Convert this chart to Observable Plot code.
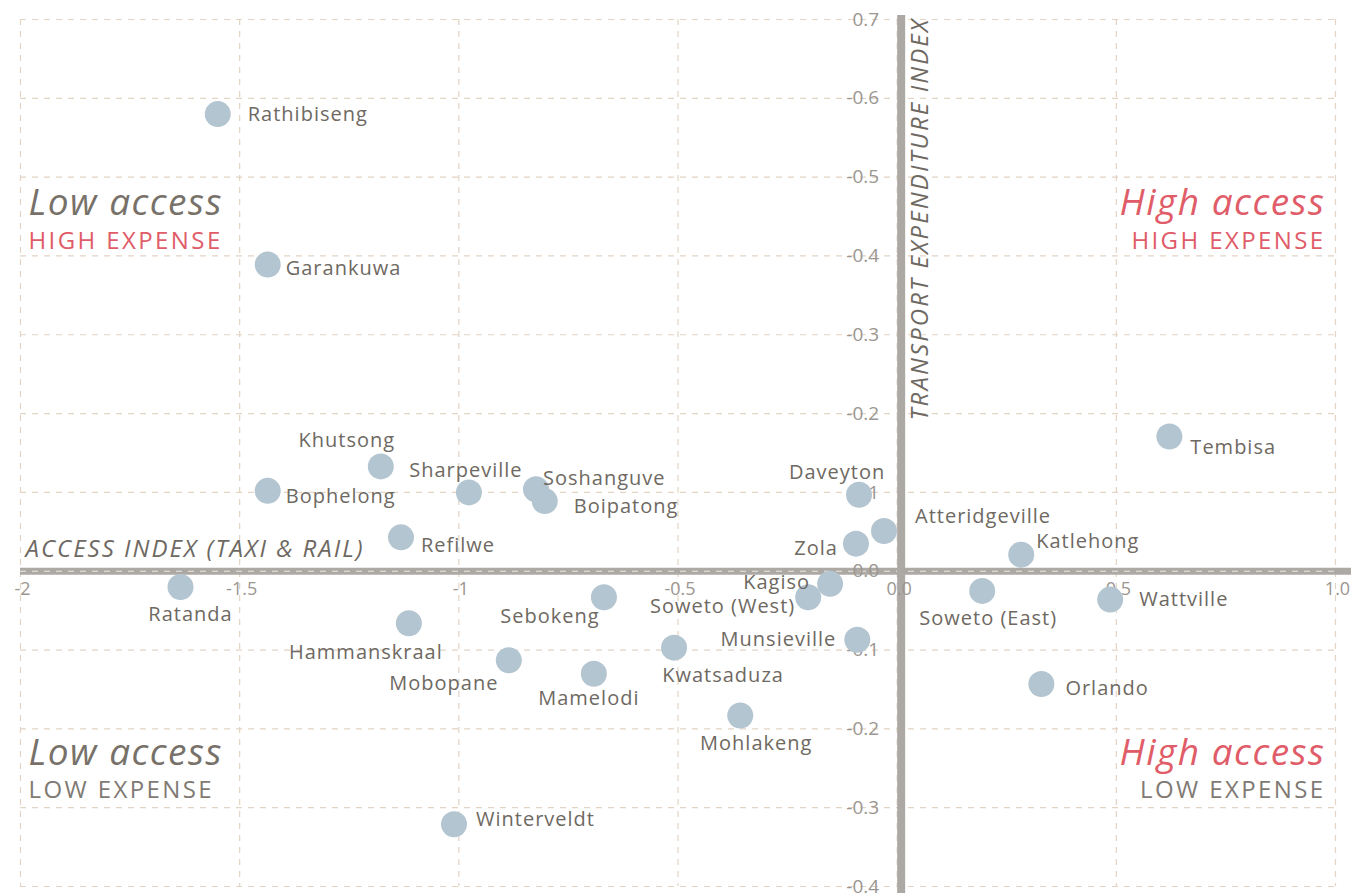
<!DOCTYPE html>
<html>
<head>
<meta charset="utf-8">
<script src="https://cdn.jsdelivr.net/npm/d3@7"></script>
<script src="https://cdn.jsdelivr.net/npm/@observablehq/plot@0.6"></script>
<style>
  html, body { margin: 0; padding: 0; background: #fff; }
  #chart svg { display: block; }
</style>
</head>
<body>
<div id="chart"></div>
<script>
// ---- Data ----
const townships = ["Rathibiseng","Garankuwa","Khutsong","Sharpeville","Bophelong","Soshanguve","Boipatong","Refilwe","Ratanda","Hammanskraal","Mobopane","Sebokeng","Mamelodi","Kwatsaduza","Mohlakeng","Soweto (West)","Kagiso","Munsieville","Zola","Daveyton","Atteridgeville","Katlehong","Soweto (East)","Wattville","Orlando","Tembisa","Winterveldt"];
const accessIndex = [-1.55,-1.436,-1.178,-0.977,-1.436,-0.824,-0.804,-1.132,-1.635,-1.114,-0.886,-0.669,-0.692,-0.509,-0.358,-0.203,-0.153,-0.091,-0.094,-0.087,-0.030,0.283,0.194,0.486,0.329,0.621,-1.011];
const expenditureIndex = [0.580,0.389,0.133,0.100,0.102,0.104,0.089,0.043,-0.020,-0.066,-0.113,-0.033,-0.130,-0.097,-0.183,-0.033,-0.016,-0.087,0.035,0.097,0.051,0.021,-0.025,-0.036,-0.143,0.171,-0.321];

const xTicks = [-2,-1.5,-1,-0.5,0,0.5,1.0];
const xTickLabels = ["-2","-1.5","-1","-0.5","0.0","0.5","1.0"];
const yTicks = [0.7,0.6,0.5,0.4,0.3,0.2,0.1,0,-0.1,-0.2,-0.3,-0.4];
const yTickLabels = ["0.7","-0.6","-0.5","-0.4","-0.3","-0.2","-0.1","0.0","-0.1","-0.2","-0.3","-0.4"];

const xTitle = "ACCESS INDEX (TAXI & RAIL)";
const yTitle = "TRANSPORT EXPENDITURE INDEX";
const quadrantHeads = ["Low access", "High access"];
const quadrantSubs = ["HIGH EXPENSE", "LOW EXPENSE"];

// ---- Label placement (layout only): [anchor, dx, dy] ----
const labelPlacement = {
  "Rathibiseng": ["start", 30, 1], "Garankuwa": ["start", 18, 4], "Khutsong": ["middle", -34, -26],
  "Sharpeville": ["middle", -3, -22], "Bophelong": ["start", 18, 6], "Soshanguve": ["start", 7, -11],
  "Boipatong": ["start", 29, 6], "Refilwe": ["start", 20, 8], "Ratanda": ["middle", 10, 28],
  "Hammanskraal": ["middle", -43, 29], "Mobopane": ["middle", -65, 23], "Sebokeng": ["middle", -54, 19],
  "Mamelodi": ["middle", -5, 25], "Kwatsaduza": ["middle", 49, 28], "Mohlakeng": ["middle", 16, 28],
  "Soweto (West)": ["end", -13, 9], "Kagiso": ["end", -20, -1], "Munsieville": ["end", -21, 0],
  "Zola": ["end", -18, 5], "Daveyton": ["middle", -22, -22], "Atteridgeville": ["start", 31, -14],
  "Katlehong": ["start", 15, -13], "Soweto (East)": ["middle", 6, 28], "Wattville": ["start", 29, 0],
  "Orlando": ["start", 24, 5], "Tembisa": ["start", 21, 11], "Winterveldt": ["start", 22, -5]
};

const data = townships.map((name, i) => ({name, x: accessIndex[i], y: expenditureIndex[i]}));
const xt = xTicks.map((v, i) => ({v, label: xTickLabels[i]}));
const yt = yTicks.map((v, i) => ({v, label: yTickLabels[i]}));

const FONT = "'Open Sans', Lato, sans-serif";
const TXT = "#6e6962";
const TICK = "#9b9690";
const RED = "#e05c68";
const GRID = "#e3d4c4";
const AXIS = "#aca8a4";
const GREYHEAD = "#777169";
const GREYSUB = "#7f7a73";

const labelMarks = data.map(d => {
  const [anchor, dx, dy] = labelPlacement[d.name];
  return Plot.text([d], {x: "x", y: "y", text: "name", textAnchor: anchor, dx, dy,
    fill: TXT, fontSize: 20, fontFamily: FONT});
});

const quadrant = (text, frameAnchor, dx, dy, color, size, italic) =>
  Plot.text([text], {frameAnchor, dx, dy, fill: color, fontSize: size,
    fontStyle: italic ? "italic" : "normal", fontFamily: FONT,
    textAnchor: frameAnchor.endsWith("left") ? "start" : "end"});

const chart = Plot.plot({
  width: 1351,
  height: 893,
  marginLeft: 20,
  marginRight: 16,
  marginTop: 19,
  marginBottom: 7,
  style: {background: "#fff", fontFamily: FONT},
  x: {domain: [-2, 1.0], axis: null},
  y: {domain: [-0.4, 0.7], axis: null},
  marks: [
    Plot.gridX(xTicks, {stroke: GRID, strokeOpacity: 1, strokeDasharray: "6,6", strokeWidth: 1.2}),
    Plot.gridY(yTicks, {stroke: GRID, strokeOpacity: 1, strokeDasharray: "6,6", strokeWidth: 1.2}),
    Plot.ruleY([0], {stroke: AXIS, strokeWidth: 7, insetRight: -20}),
    Plot.ruleY([0], {stroke: "#ece6df", strokeDasharray: "6,6", strokeWidth: 1.2}),
    Plot.ruleX([0], {stroke: AXIS, strokeWidth: 8, dx: 4, insetTop: -4, insetBottom: -10}),
    // tick labels along axes
    Plot.text(yt, {x: 0, y: "v", text: "label", textAnchor: "end", dx: -18, fill: TICK, fontSize: 19, fontFamily: FONT}),
    Plot.text(xt, {x: "v", y: 0, text: "label", textAnchor: "middle", dy: 18, dx: 2, fill: TICK, fontSize: 18, fontFamily: FONT}),
    // axis titles
    Plot.text([xTitle], {x: -2, y: 0, dx: 5, dy: -22, textAnchor: "start", fill: TXT, fontSize: 24, fontStyle: "italic", fontFamily: FONT}),
    Plot.text([yTitle], {x: 0, y: 0.7, dx: 23, dy: -2, rotate: -90, textAnchor: "end", fill: TXT, fontSize: 24, fontStyle: "italic", fontFamily: FONT}),
    // points
    Plot.dot(data, {x: "x", y: "y", r: 13, fill: "#b3c5d0", fillOpacity: 1, stroke: "none"}),
    ...labelMarks,
    // quadrant annotations
    quadrant(quadrantHeads[0], "top-left", 8, 169, GREYHEAD, 37, true),
    quadrant(quadrantSubs[0], "top-left", 8, 212, RED, 24, false),
    quadrant(quadrantHeads[1], "top-right", -10, 169, RED, 37, true),
    quadrant(quadrantSubs[0], "top-right", -10, 212, RED, 24, false),
    quadrant(quadrantHeads[0], "top-left", 8, 719, GREYHEAD, 37, true),
    quadrant(quadrantSubs[1], "top-left", 8, 761, GREYSUB, 24, false),
    quadrant(quadrantHeads[1], "top-right", -10, 719, RED, 37, true),
    quadrant(quadrantSubs[1], "top-right", -10, 761, GREYSUB, 24, false)
  ]
});

// letter spacing to mimic the wider original typeface
d3.select(chart).selectAll("text").each(function () {
  const t = this.textContent;
  const el = d3.select(this);
  if (townships.includes(t)) el.style("letter-spacing", "1px");
  else if (quadrantHeads.includes(t)) el.style("letter-spacing", "1.5px");
  else if (quadrantSubs.includes(t)) el.style("letter-spacing", "2.4px");
  else if (t === xTitle) el.style("letter-spacing", "2px");
  else if (t === yTitle) el.style("letter-spacing", "2.1px");
});
document.getElementById("chart").appendChild(chart);
</script>
</body>
</html>
